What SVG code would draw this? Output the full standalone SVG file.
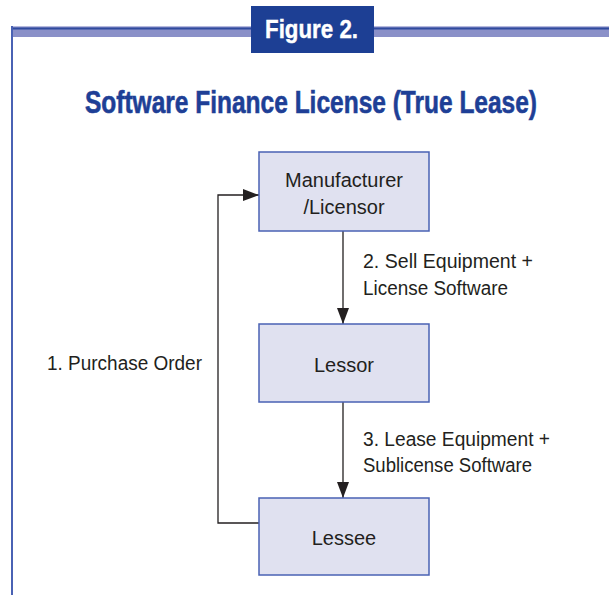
<svg xmlns="http://www.w3.org/2000/svg" width="609" height="595" viewBox="0 0 609 595">
<style>
.node rect{fill:#e0e1f0;stroke:#4a62b4;stroke-width:1.5}
.lbl{font-family:"Liberation Sans",Arial,sans-serif;font-size:20px;fill:#231f20}
.c{text-anchor:middle}
.conn{fill:none;stroke:#231f20;stroke-width:1.3}
</style>
<defs>
<marker id="ah" viewBox="0 0 16 12" refX="16" refY="6" markerWidth="16" markerHeight="12" markerUnits="userSpaceOnUse" orient="auto">
<path d="M0,0 L16,6 L0,12 z" fill="#231f20"/>
</marker>
</defs>
<rect width="609" height="595" fill="#ffffff"/>
<g id="frame">
<rect x="11" y="26" width="598" height="11" fill="#8a90c8"/>
<rect x="11" y="26" width="598" height="1" fill="#b6bade"/>
<rect x="11" y="27.5" width="598" height="2" fill="#2f4a9e"/>
<rect x="11" y="26" width="2" height="569" fill="#4a62b4"/>
</g>
<g id="figure-tag">
<rect x="251" y="6" width="123" height="47" fill="#1d3f94"/>
<text x="265" y="38" font-family="'Liberation Sans',Arial,sans-serif" font-weight="bold" font-size="26" fill="#ffffff" stroke="#ffffff" stroke-width="0.4" textLength="93" lengthAdjust="spacingAndGlyphs">Figure 2.</text>
</g>
<text id="title" x="85" y="113" font-family="'Liberation Sans',Arial,sans-serif" font-weight="bold" font-size="32" fill="#1e3f96" stroke="#1e3f96" stroke-width="0.6" textLength="452" lengthAdjust="spacingAndGlyphs">Software Finance License (True Lease)</text>
<g id="connectors">
<path class="conn" d="M343,231 V324" marker-end="url(#ah)"/>
<path class="conn" d="M343,402 V498" marker-end="url(#ah)"/>
<path class="conn" d="M259,523 H218 V195 H259" marker-end="url(#ah)"/>
<text class="lbl" x="47" y="370" textLength="155" lengthAdjust="spacingAndGlyphs">1. Purchase Order</text>
<text class="lbl" x="363" y="268" textLength="170" lengthAdjust="spacingAndGlyphs">2. Sell Equipment +</text>
<text class="lbl" x="363" y="295" textLength="145" lengthAdjust="spacingAndGlyphs">License Software</text>
<text class="lbl" x="363" y="446" textLength="187" lengthAdjust="spacingAndGlyphs">3.  Lease Equipment +</text>
<text class="lbl" x="363" y="472" textLength="169" lengthAdjust="spacingAndGlyphs">Sublicense Software</text>
</g>
<g id="manufacturer" class="node">
<rect x="259" y="152" width="170" height="79"/>
<text class="lbl c" x="344" y="187">Manufacturer</text>
<text class="lbl c" x="344" y="214">/Licensor</text>
</g>
<g id="lessor" class="node">
<rect x="259" y="324" width="170" height="78"/>
<text class="lbl c" x="344" y="372">Lessor</text>
</g>
<g id="lessee" class="node">
<rect x="259" y="498" width="170" height="77"/>
<text class="lbl c" x="344" y="545">Lessee</text>
</g>
</svg>
